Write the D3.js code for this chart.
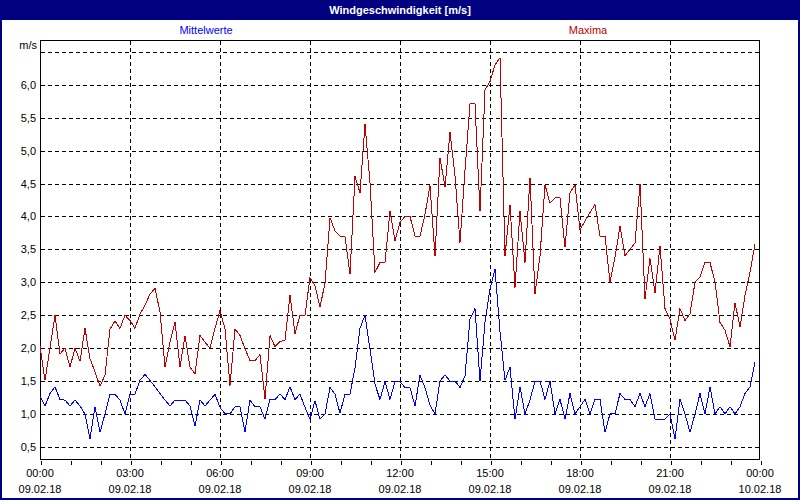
<!DOCTYPE html>
<html><head><meta charset="utf-8">
<script src="https://cdn.jsdelivr.net/npm/d3@7"></script>
<style>body{margin:0;background:#fff}svg{display:block}text{font-family:"Liberation Sans",Arial,sans-serif}</style>
</head><body>
<script>
const title = "Windgeschwindigkeit [m/s]";
const seriesNames = ["Mittelwerte", "Maxima"];
const seriesColors = ["#0000ff", "#c00000"];
const yUnit = "m/s";
const timeLabels = ["00:00","03:00","06:00","09:00","12:00","15:00","18:00","21:00","00:00"];
const dateLabels = ["09.02.18","09.02.18","09.02.18","09.02.18","09.02.18","09.02.18","09.02.18","09.02.18","10.02.18"];
const yTicks = [0.5,1.0,1.5,2.0,2.5,3.0,3.5,4.0,4.5,5.0,5.5,6.0,6.5];
const yTickLabels = ["0,5","1,0","1,5","2,0","2,5","3,0","3,5","4,0","4,5","5,0","5,5","6,0",""];
// 10-minute samples starting 09.02.18 00:00
const mittelwerte = [1.27,1.12,1.31,1.41,1.22,1.21,1.12,1.21,1.12,1.0,0.62,1.11,0.72,1.0,1.3,1.3,1.21,1.0,1.3,1.3,
1.51,1.6,1.51,1.41,1.31,1.21,1.12,1.21,1.21,1.21,1.12,0.82,1.21,1.12,1.21,1.3,1.1,1.0,1.0,1.11,
1.11,0.73,1.21,1.11,1.11,0.92,1.22,1.22,1.3,1.22,1.41,1.22,1.3,1.1,0.92,1.2,0.92,1.0,1.4,1.3,
1.01,1.3,1.3,1.7,2.3,2.5,1.98,1.45,1.22,1.49,1.22,1.49,1.49,1.4,1.4,1.12,1.59,1.4,1.13,1.0,
1.5,1.59,1.5,1.5,1.4,1.58,2.44,2.6,1.5,2.39,2.9,3.2,2.25,1.51,1.71,0.92,1.41,1.0,1.21,1.5,
1.5,1.22,1.5,1.0,1.22,0.92,1.31,1.0,1.11,1.22,1.0,1.22,1.22,0.72,1.0,1.0,1.31,1.22,1.22,1.11,
1.31,1.11,1.31,0.92,0.92,0.92,1.0,0.62,1.22,1.0,0.72,1.0,1.31,1.0,1.41,1.0,1.11,1.0,1.11,1.0,
1.11,1.31,1.41,1.79];
const maxima = [2.03,1.51,2.0,2.5,1.91,2.0,1.71,2.0,1.8,2.3,1.84,1.64,1.42,1.59,2.29,2.41,2.3,2.5,2.42,2.3,
2.52,2.65,2.82,2.91,2.55,1.71,2.09,2.39,1.71,2.19,1.71,1.61,2.19,2.09,2.0,2.3,2.57,2.29,1.43,2.29,
2.19,1.99,1.81,1.81,1.9,1.23,2.19,2.02,2.1,2.12,2.8,2.22,2.5,2.5,3.07,2.95,2.62,2.99,3.98,3.78,
3.7,3.69,3.12,4.61,4.36,5.4,4.51,3.15,3.3,3.3,4.08,3.63,3.91,4.0,4.0,3.7,3.7,4.03,4.47,3.4,
4.89,4.45,5.28,4.62,3.6,4.7,5.71,5.71,4.08,5.92,6.05,6.3,6.41,3.4,4.18,2.92,4.08,3.3,4.59,2.82,
3.4,4.48,4.2,4.28,4.28,3.53,4.36,4.48,3.8,3.93,4.06,4.18,3.7,3.7,3.01,3.38,3.85,3.4,3.5,3.6,
4.49,2.75,3.36,2.84,3.55,2.6,2.44,2.12,2.6,2.42,2.52,3.0,3.08,3.3,3.3,3.0,2.39,2.27,2.02,2.69,
2.32,2.8,3.15,3.58];

const W = 800, H = 500;
const svg = d3.select("body").append("svg").attr("width", W).attr("height", H);
svg.append("rect").attr("width", W).attr("height", H).attr("fill", "#ffffff");

const x = d3.scaleLinear().domain([0, 24]).range([40, 760]);
const y = d3.scaleLinear().domain([0.3, 6.68]).range([460, 40]);
const px = v => Math.round(v) + 0.5;

// title bar & frame
svg.append("rect").attr("x", 0).attr("y", 0).attr("width", W).attr("height", 20).attr("fill", "#000080");
svg.append("rect").attr("x", 1).attr("y", 1).attr("width", W - 2).attr("height", H - 2)
  .attr("fill", "none").attr("stroke", "#000080").attr("stroke-width", 2);
svg.append("text").attr("x", 400).attr("y", 14).attr("text-anchor", "middle")
  .attr("fill", "#ffffff").attr("font-size", 11).attr("font-weight", "bold").text(title);

// legend
svg.append("text").attr("x", 206).attr("y", 34).attr("text-anchor", "middle")
  .attr("fill", seriesColors[0]).attr("font-size", 11).text(seriesNames[0]);
svg.append("text").attr("x", 588).attr("y", 34).attr("text-anchor", "middle")
  .attr("fill", seriesColors[1]).attr("font-size", 11).text(seriesNames[1]);

const grid = svg.append("g").attr("stroke", "#000").attr("stroke-dasharray", "4,3").attr("shape-rendering", "crispEdges");
yTicks.forEach(v => {
  grid.append("line").attr("x1", 41).attr("x2", 759).attr("y1", px(y(v))).attr("y2", px(y(v)));
});
d3.range(3, 24, 3).forEach(h => {
  grid.append("line").attr("x1", px(x(h))).attr("x2", px(x(h))).attr("y1", 41).attr("y2", 460);
});

// y labels
svg.append("g").selectAll("text").data(yTicks.filter((d, i) => yTickLabels[i] !== "")).join("text")
  .attr("x", 36).attr("y", d => y(d) + 4).attr("text-anchor", "end").attr("font-size", 11).attr("fill", "#000")
  .text((d) => yTickLabels[yTicks.indexOf(d)]);
svg.append("text").attr("x", 37).attr("y", 49).attr("text-anchor", "end").attr("font-size", 11).text(yUnit);

// frame of plot area
const fr = svg.append("g").attr("stroke", "#000").attr("shape-rendering", "crispEdges").attr("fill", "none");
fr.append("rect").attr("x", 40.5).attr("y", 40.5).attr("width", 719).attr("height", 419);

// bottom axis with hourly ticks
const xAxis = d3.axisBottom(x).tickValues(d3.range(0, 25, 1)).tickSize(4).tickFormat("");
const ax = svg.append("g").attr("transform", "translate(0.5,460.5)").call(xAxis);
ax.select(".domain").remove();
ax.selectAll("line").attr("shape-rendering", "crispEdges");

svg.append("g").selectAll("text").data(timeLabels).join("text")
  .attr("x", (d, i) => x(i * 3)).attr("y", 477).attr("text-anchor", "middle").attr("font-size", 11).text(d => d);
svg.append("g").selectAll("text").data(dateLabels).join("text")
  .attr("x", (d, i) => x(i * 3)).attr("y", 493).attr("text-anchor", "middle").attr("font-size", 11).text(d => d);

// lines
const line = d3.line().x((d, i) => x(i / 6)).y(d => y(d));
[mittelwerte, maxima].forEach((s, k) => {
  svg.append("path").datum(s).attr("d", line).attr("fill", "none")
    .attr("stroke", seriesColors[k]).attr("stroke-width", 1).attr("shape-rendering", "crispEdges");
});
</script>
</body></html>
